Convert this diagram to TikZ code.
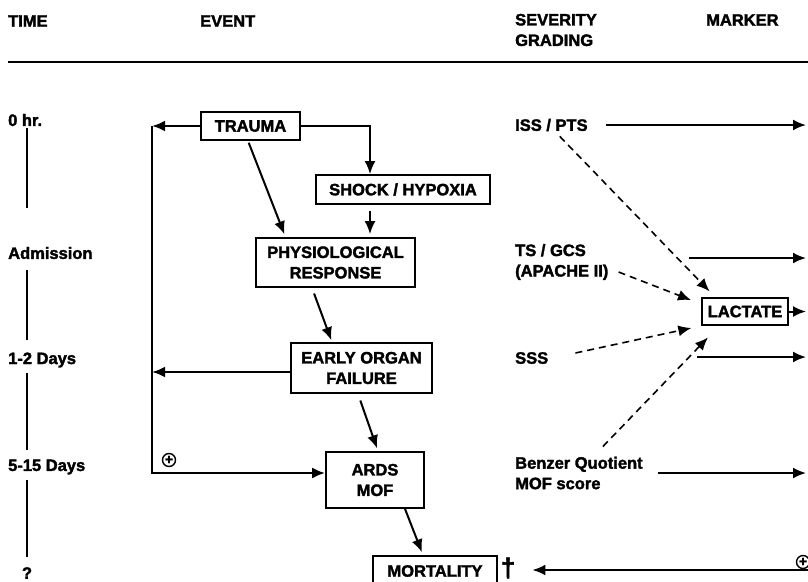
\documentclass[tikz,border=0pt]{standalone}
\usepackage{fontspec}
\setmainfont{Liberation Sans}[BoldFeatures={FakeBold=2}]
\usetikzlibrary{arrows.meta}

\begin{document}
\begin{tikzpicture}[x=1pt,y=-1pt,
font=\fontsize{16.5}{20.5}\selectfont\bfseries,
arr/.style={draw,line width=2pt,-{Latex[length=13pt,width=11pt]}},
dsh/.style={arr,line width=1.6pt,dash pattern=on 7pt off 5pt},
tl/.style={draw,line width=1.5pt}]
\tikzstyle{box}=[rectangle,draw,line width=1.8pt,align=center,inner sep=0pt]
\tikzstyle{lbl}=[inner sep=0pt,anchor=west,align=left]
\tikzstyle{pluscirc}=[circle,draw,line width=1.4pt,inner sep=0pt,minimum size=13pt,font=\fontsize{14}{14}\selectfont\bfseries]
\useasboundingbox (0,0) rectangle (808,581);

% header
\node[lbl] (hTime) at (8,21) {TIME};
\node[lbl] (hEvent) at (200,21) {EVENT};
\node[lbl] (hSev) at (515,30) {SEVERITY\\GRADING};
\node[lbl] (hMark) at (706,20) {MARKER};
\coordinate (hl) at (8,62);
\coordinate (hr) at (808,62);
\draw[line width=2.2pt] (hl) -- (hr);

% time line
\node[lbl] (t0) at (8,120) {0 hr.};
\node[lbl] (t1) at (8,253) {Admission};
\node[lbl] (t2) at (8,360) {1-2 Days};
\node[lbl] (t3) at (8,467) {5-15 Days};
\node[inner sep=0pt] (t4) at (27,573) {?};
\coordinate (tx) at (27,0);
\draw[tl,shorten <=2pt,shorten >=39pt] (t0.south -| tx) -- (t1.north -| tx);
\draw[tl,shorten <=11pt,shorten >=12pt] (t1.south -| tx) -- (t2.north -| tx);
\draw[tl,shorten <=5pt,shorten >=9pt] (t2.south -| tx) -- (t3.north -| tx);
\draw[tl,shorten <=5pt,shorten >=10pt] (t3.south -| tx) -- (t4.north -| tx);

% events
\node[box,minimum width=99pt,minimum height=28pt] (trauma) at (250.5,126) {TRAUMA};
\node[box,minimum width=174pt,minimum height=29pt] (shock) at (403,189.5) {SHOCK / HYPOXIA};
\node[box,minimum width=159pt,minimum height=49pt] (phys) at (335.5,262.5) {PHYSIOLOGICAL\\RESPONSE};
\node[box,minimum width=141pt,minimum height=50pt] (eof) at (361.5,368) {EARLY ORGAN\\FAILURE};
\node[box,minimum width=98pt,minimum height=56pt] (ards) at (375,480) {ARDS\\MOF};
\node[box,minimum width=124pt,minimum height=30pt] (mort) at (435,571) {MORTALITY};
\node[inner sep=0pt,font=\fontsize{26}{26}\selectfont\bfseries] (dag) at (508,568) {†};

\draw[arr] (trauma.east) -| ([xshift=-33pt]shock.north);
\draw[arr,shorten <=2pt,shorten >=3pt] ([xshift=-2.5pt]trauma.south) -- ([xshift=-50pt]phys.north);
\draw[arr,shorten <=6pt,shorten >=3pt] ([xshift=-33pt]shock.south) -- ([xshift=34.5pt]phys.north);
\draw[arr,shorten <=6pt,shorten >=2pt] ([xshift=-23.5pt]phys.south) -- ([xshift=-29.5pt]eof.north);
\draw[arr,shorten <=7pt,shorten >=3pt] ([xshift=-3.5pt]eof.south) -- ([xshift=3pt]ards.north);
\draw[arr,shorten >=3pt] ([xshift=30pt]ards.south) -- ([xshift=-12pt]mort.north);

% feedback on the left
\coordinate (lt) at (152,126);
\coordinate (lb) at (152,473);
\draw[arr,line width=2.4pt] (trauma.west) -- (lt);
\draw[arr,line width=2.4pt] (lt) -- (lb) -- (lb -| ards.west);
\draw[arr,line width=2.4pt] ([yshift=-4pt]eof.west) -- ([yshift=-4pt]eof.west -| lt);
\node[pluscirc] (pl1) at (169,460) {+};

% severity grading
\node[lbl] (iss) at (515,125) {ISS / PTS};
\node[lbl] (ts) at (515,262) {TS / GCS\\(APACHE II)};
\node[lbl] (sss) at (515,358) {SSS};
\node[lbl] (bq) at (515,473) {Benzer Quotient\\MOF score};

% marker
\node[box,minimum width=86pt,minimum height=27pt] (lact) at (745,311.5) {LACTATE};
\coordinate (rx) at (806,0);
\coordinate (tsout) at (689,258);
\coordinate (sssout) at (697,357);
\draw[arr] ([xshift=18pt]iss.east) -- (iss.east -| rx);
\draw[arr] (tsout) -- (tsout -| rx);
\draw[arr] (lact.east) -- (lact.east -| rx);
\draw[arr] (sssout) -- (sssout -| rx);
\draw[arr] ([xshift=15pt]bq.east) -- (bq.east -| rx);

\draw[dsh,shorten <=7pt,shorten >=8pt] ([xshift=3.5pt]iss.south) -- ([xshift=14pt]lact.north west);
\draw[dsh,shorten >=10.8pt] ([xshift=10pt,yshift=-10pt]ts.east) -- ([yshift=7.5pt]lact.west);
\draw[dsh,shorten >=10pt] ([xshift=27pt,yshift=5pt]sss.east) -- (lact.south west);
\draw[dsh,shorten >=16pt] ([xshift=24pt,yshift=10pt]bq.north) -- ([xshift=18pt]lact.south west);

% mortality
\coordinate (mo) at (808,570);
\draw[arr] (mo) -- ([xshift=17pt]dag.east |- mo);
\node[pluscirc] (pl2) at (803,562) {+};
\end{tikzpicture}
\end{document}
